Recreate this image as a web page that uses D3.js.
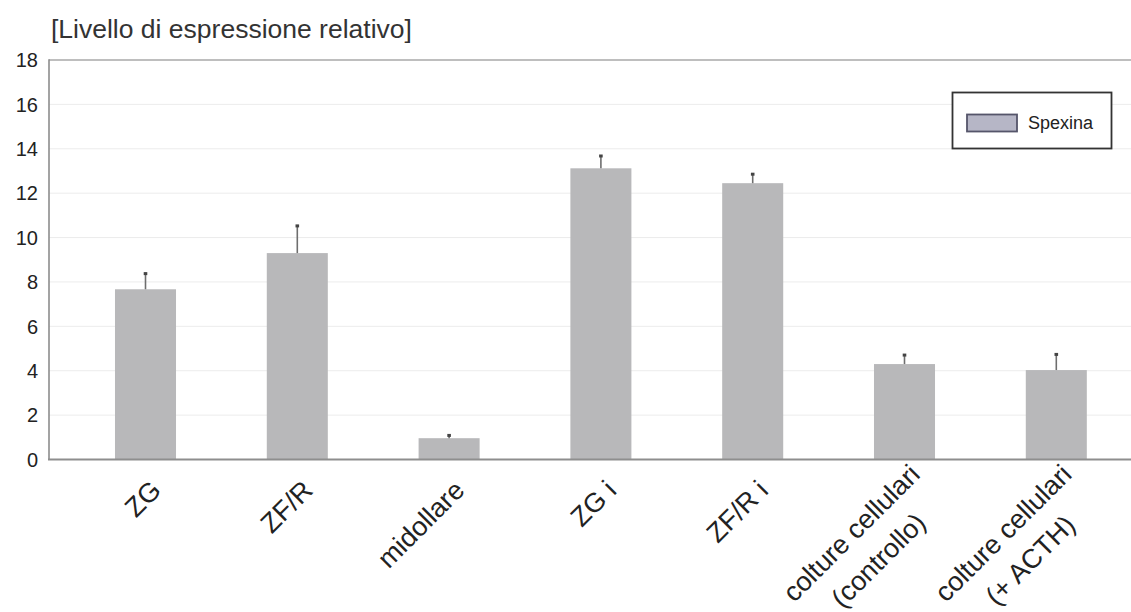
<!DOCTYPE html>
<html>
<head>
<meta charset="utf-8">
<script src="https://cdn.jsdelivr.net/npm/d3@7"></script>
<style>
  html, body { margin: 0; padding: 0; background: #ffffff; }
  svg { display: block; font-family: "Liberation Sans", Arial, Helvetica, sans-serif; }
</style>
</head>
<body>
<svg id="chart" width="1131" height="612"></svg>
<script>
// Relative spexin expression by tissue / culture condition
const categories = [
  "ZG",
  "ZF/R",
  "midollare",
  "ZG i",
  "ZF/R i",
  "colture cellulari\n(controllo)",
  "colture cellulari\n(+ ACTH)"
];
const spexinaValues = [7.67, 9.3, 0.96, 13.12, 12.45, 4.3, 4.03];
const spexinaErrors = [0.75, 1.27, 0.17, 0.6, 0.45, 0.45, 0.75];
const yTicks = [0, 2, 4, 6, 8, 10, 12, 14, 16, 18];
const seriesName = "Spexina";
const yTitle = "[Livello di espressione relativo]";

const W = 1131, H = 612;
const svg = d3.select("#chart");

const axisX = 49, plotTop = 60, plotBottom = 459.5;

const x = d3.scaleBand()
  .domain(categories)
  .range([69.6, 1132.2])
  .paddingInner(0.598)
  .paddingOuter(0.299);

const y = d3.scaleLinear()
  .domain([0, 18])
  .range([plotBottom, plotTop]);

// horizontal gridlines
svg.append("g")
  .selectAll("line")
  .data(yTicks.filter(d => d > 0 && d < 18))
  .join("line")
  .attr("x1", axisX).attr("x2", W)
  .attr("y1", d => y(d)).attr("y2", d => y(d))
  .attr("stroke", "#ececec")
  .attr("stroke-width", 1);

// top frame line
svg.append("line")
  .attr("x1", axisX).attr("x2", W)
  .attr("y1", y(18)).attr("y2", y(18))
  .attr("stroke", "#a8a8a8").attr("stroke-width", 1.5);

// bars
svg.append("g")
  .selectAll("rect")
  .data(categories)
  .join("rect")
  .attr("x", d => x(d))
  .attr("width", x.bandwidth())
  .attr("y", (d, i) => y(spexinaValues[i]))
  .attr("height", (d, i) => y(0) - y(spexinaValues[i]))
  .attr("fill", "#b8b8ba");

// error bars (upper)
const err = svg.append("g").attr("stroke", "#6e6e6e");
err.selectAll("line.stem")
  .data(categories)
  .join("line")
  .attr("class", "stem")
  .attr("x1", d => x(d) + x.bandwidth() / 2)
  .attr("x2", d => x(d) + x.bandwidth() / 2)
  .attr("y1", (d, i) => y(spexinaValues[i]))
  .attr("y2", (d, i) => y(spexinaValues[i] + spexinaErrors[i]))
  .attr("stroke-width", 1.6);
err.selectAll("line.cap")
  .data(categories)
  .join("line")
  .attr("class", "cap")
  .attr("x1", d => x(d) + x.bandwidth() / 2 - 1.8)
  .attr("x2", d => x(d) + x.bandwidth() / 2 + 1.8)
  .attr("y1", (d, i) => y(spexinaValues[i] + spexinaErrors[i]) + 1)
  .attr("y2", (d, i) => y(spexinaValues[i] + spexinaErrors[i]) + 1)
  .attr("stroke", "#444")
  .attr("stroke-width", 3);

// axes lines
svg.append("line")
  .attr("x1", axisX).attr("x2", axisX)
  .attr("y1", y(18) - 0.75).attr("y2", y(0))
  .attr("stroke", "#8c8c8c").attr("stroke-width", 1.6);
svg.append("line")
  .attr("x1", axisX - 1).attr("x2", W)
  .attr("y1", y(0)).attr("y2", y(0))
  .attr("stroke", "#8e8e8e").attr("stroke-width", 2);

// y tick labels
svg.append("g")
  .selectAll("text")
  .data(yTicks)
  .join("text")
  .attr("x", 38)
  .attr("y", d => y(d))
  .attr("dy", "0.36em")
  .attr("text-anchor", "end")
  .attr("font-size", 20)
  .attr("fill", "#222")
  .text(d => d);

// y title
svg.append("text")
  .attr("x", 51)
  .attr("y", 38)
  .attr("font-size", 26.5)
  .attr("fill", "#333")
  .text(yTitle);

// rotated category labels; multi-line blocks are lifted and lines centred on each other
const fs = 27, lineH = 1.42 * fs;
const lab = svg.append("g").attr("font-size", fs).attr("fill", "#222");
categories.forEach(cat => {
  const cx = x(cat) + x.bandwidth() / 2;
  const lines = cat.split("\n");
  const lift = (lines.length - 1) * 16;
  const g = lab.append("g")
    .attr("transform", `translate(${cx + 17},${492 - lift}) rotate(-45)`);
  const texts = lines.map((ln, k) => g.append("text")
    .attr("x", 0)
    .attr("y", k * lineH)
    .attr("text-anchor", "end")
    .text(ln));
  const widths = texts.map(t => t.node().getComputedTextLength());
  const maxW = d3.max(widths);
  texts.forEach((t, k) => t.attr("x", -(maxW - widths[k]) / 2));
});

// legend
const lg = svg.append("g");
lg.append("rect")
  .attr("x", 952.5).attr("y", 92.5)
  .attr("width", 159).attr("height", 56)
  .attr("fill", "#fff")
  .attr("stroke", "#333").attr("stroke-width", 1.8);
lg.append("rect")
  .attr("x", 967).attr("y", 114.5)
  .attr("width", 50).attr("height", 17)
  .attr("fill", "#b6b6c6")
  .attr("stroke", "#55556a").attr("stroke-width", 1.8);
lg.append("text")
  .attr("x", 1028).attr("y", 129)
  .attr("font-size", 18)
  .attr("fill", "#222")
  .text(seriesName);
</script>
</body>
</html>
